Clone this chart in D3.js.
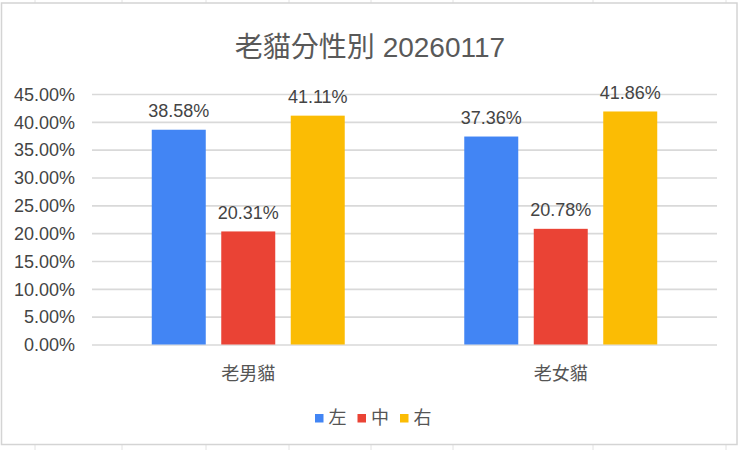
<!DOCTYPE html>
<html>
<head>
<meta charset="utf-8">
<script src="https://cdn.jsdelivr.net/npm/d3@7"></script>
<style>
  html, body { margin: 0; padding: 0; background: #fff; }
  svg { display: block; }
  text { font-family: "Liberation Sans", Arial, "Noto Sans CJK TC", sans-serif; }
</style>
</head>
<body>
<svg id="chart" width="740" height="450"></svg>
<script>
const title = "老貓分性別 20260117";
const categories = ["老男貓", "老女貓"];
const seriesNames = ["左", "中", "右"];
const seriesColors = ["#4285F4", "#EA4335", "#FBBC04"];
const valuesLeft = [38.58, 37.36];
const valuesMid = [20.31, 20.78];
const valuesRight = [41.11, 41.86];
const yTicks = [0, 5, 10, 15, 20, 25, 30, 35, 40, 45];
const sheetColumnLines = [35, 122, 206, 289, 371, 453, 593, 726];

const seriesValues = [valuesLeft, valuesMid, valuesRight];
const data = categories.map((c, i) => ({
  category: c,
  bars: seriesNames.map((s, j) => ({ series: s, value: seriesValues[j][i], color: seriesColors[j] }))
}));

const svg = d3.select("#chart");
const CJK = '"Noto Sans CJK TC", "Liberation Sans", sans-serif';

// spreadsheet cell lines outside chart box
svg.append("g").selectAll("line").data(sheetColumnLines).join("line")
  .attr("x1", d => d).attr("x2", d => d).attr("y1", 0).attr("y2", 450)
  .attr("stroke", "#e2e2e2").attr("stroke-width", 1);

// chart box
svg.append("rect")
  .attr("x", 1.5).attr("y", 3).attr("width", 735.5).attr("height", 441.5)
  .attr("fill", "#fff").attr("stroke", "#d4d4d4").attr("stroke-width", 1.5);

const plotLeft = 92, plotRight = 717;
const y = d3.scaleLinear().domain([0, 45]).range([344.5, 94]);
const x0 = d3.scaleBand().domain(categories).range([plotLeft, plotRight]).padding(0);
const x1 = d3.scaleBand().domain(seriesNames).range([0, x0.bandwidth()])
  .paddingInner(0.223).paddingOuter(0.86);

// title
svg.append("text")
  .attr("x", 370).attr("y", 56.5)
  .attr("text-anchor", "middle")
  .attr("font-size", 28)
  .attr("fill", "#595959")
  .style("font-family", '"Liberation Sans", Arial, "Noto Sans CJK TC", sans-serif')
  .text(title);

// y axis gridlines
const yAxis = d3.axisLeft(y)
  .tickValues(yTicks)
  .tickSize(-(plotRight - plotLeft))
  .tickPadding(17)
  .tickFormat(d => d.toFixed(2) + "%");
const gy = svg.append("g").attr("transform", `translate(${plotLeft},0)`).call(yAxis);
gy.select(".domain").remove();
gy.selectAll(".tick line").attr("stroke", "#d9d9d9").attr("stroke-width", 1.6);
gy.selectAll(".tick text")
  .attr("font-size", 18).attr("fill", "#444")
  .attr("dy", "0.35em")
  .style("font-family", '"Liberation Sans", Arial, sans-serif');

// bars
const groups = svg.append("g").selectAll("g").data(data).join("g")
  .attr("transform", d => `translate(${x0(d.category)},0)`);

groups.selectAll("rect").data(d => d.bars).join("rect")
  .attr("x", d => x1(d.series))
  .attr("width", x1.bandwidth())
  .attr("y", d => y(d.value))
  .attr("height", d => y(0) - y(d.value))
  .attr("fill", d => d.color);

groups.selectAll("text.val").data(d => d.bars).join("text")
  .attr("class", "val")
  .attr("x", d => x1(d.series) + x1.bandwidth() / 2)
  .attr("y", d => y(d.value) - 12.5)
  .attr("text-anchor", "middle")
  .attr("font-size", 18)
  .attr("fill", "#444")
  .text(d => d.value.toFixed(2) + "%");

// x axis labels
const xAxis = d3.axisBottom(x0).tickSize(0).tickPadding(0);
const gx = svg.append("g").attr("transform", `translate(0,${y(0)})`).call(xAxis);
gx.select(".domain").remove();
gx.selectAll(".tick text")
  .attr("y", 29.5).attr("dy", "0.35em")
  .attr("font-size", 18).attr("fill", "#555")
  .style("font-family", CJK);

// legend
const legendX = [315, 357.5, 400];
const legend = svg.append("g").selectAll("g").data(seriesNames).join("g")
  .attr("transform", (d, i) => `translate(${legendX[i]},418)`);
legend.append("rect")
  .attr("x", 0).attr("y", -4).attr("width", 8.5).attr("height", 8.5)
  .attr("fill", (d, i) => seriesColors[i]);
legend.append("text")
  .attr("x", 13.5).attr("y", 0).attr("dy", "0.35em")
  .attr("font-size", 18).attr("fill", "#555")
  .style("font-family", CJK)
  .text(d => d);
</script>
</body>
</html>
